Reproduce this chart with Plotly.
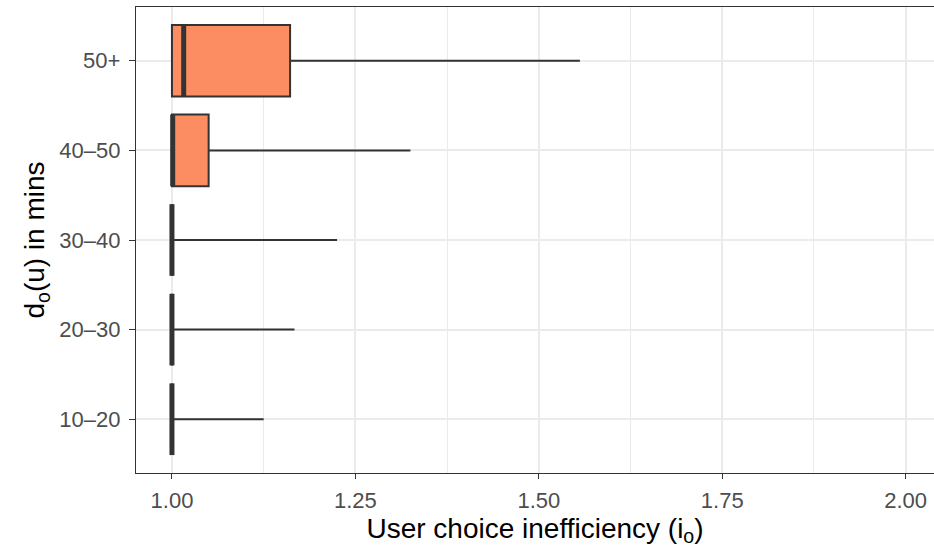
import plotly.graph_objects as go

categories = ["10–20", "20–30", "30–40", "40–50", "50+"]
q1 = [1.0, 1.0, 1.0, 1.0, 1.0]
median = [1.0, 1.0, 1.0, 1.001, 1.016]
q3 = [1.0, 1.0, 1.0, 1.05, 1.161]
lower = [1.0, 1.0, 1.0, 1.0, 1.0]
upper = [1.125, 1.167, 1.225, 1.325, 1.556]
x_ticks = [1.00, 1.25, 1.50, 1.75, 2.00]
x_ticktext = ["1.00", "1.25", "1.50", "1.75", "2.00"]

pos = list(range(len(categories)))
BOX_W = 0.8
FILL = "#FC8D62"
LINE = "#333333"
FONT = "Liberation Sans, Arial, sans-serif"

fig = go.Figure()
fig.add_trace(go.Box(
    y=pos, q1=q1, median=median, q3=q3, lowerfence=lower, upperfence=upper,
    orientation="h", width=BOX_W, fillcolor=FILL,
    line=dict(color=LINE, width=2), boxpoints=False, whiskerwidth=0,
    hoverinfo="skip", showlegend=False,
))
# thick median lines (ggplot fatten)
mx, my = [], []
for p, m in zip(pos, median):
    mx += [m, m, None]
    my += [p - BOX_W / 2, p + BOX_W / 2, None]
fig.add_trace(go.Scatter(x=mx, y=my, mode="lines",
                         line=dict(color=LINE, width=5),
                         hoverinfo="skip", showlegend=False))

fig.update_layout(
    width=934, height=549,
    margin=dict(l=136, r=0, t=7, b=76),
    paper_bgcolor="white", plot_bgcolor="white",
    font=dict(family=FONT),
    xaxis=dict(
        range=[0.951, 2.0386], tickvals=x_ticks, ticktext=x_ticktext,
        showgrid=True, gridcolor="#EBEBEB", gridwidth=1.5,
        minor=dict(tickvals=[1.125, 1.375, 1.625, 1.875], showgrid=True,
                   gridcolor="#EBEBEB", gridwidth=0.8, ticks=""),
        showline=True, linecolor=LINE, linewidth=1.4, mirror=True,
        ticks="outside", ticklen=5, tickcolor=LINE, tickwidth=1.4,
        tickfont=dict(size=22, color="#4D4D4D"), ticklabelstandoff=2,
        title=dict(text="User choice inefficiency (i<sub>o</sub>)",
                   font=dict(size=28, color="black"), standoff=4),
        zeroline=False,
    ),
    yaxis=dict(
        range=[-0.6, 4.6], tickvals=pos, ticktext=categories,
        showgrid=True, gridcolor="#EBEBEB", gridwidth=1.5,
        showline=True, linecolor=LINE, linewidth=1.4, mirror=False,
        ticks="outside", ticklen=6, tickcolor=LINE, tickwidth=1.4,
        tickfont=dict(size=22, color="#4D4D4D"), ticklabelstandoff=4,
        title=dict(text="d<sub>o</sub>(u) in mins",
                   font=dict(size=28, color="black"), standoff=6),
        zeroline=False,
    ),
)
fig.write_html("out.html")
